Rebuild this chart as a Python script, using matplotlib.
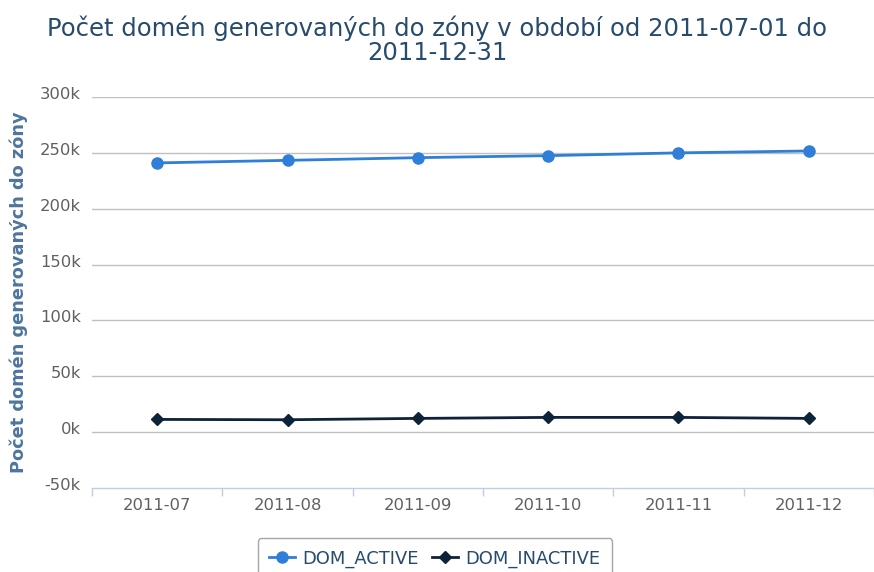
import matplotlib
matplotlib.use("Agg")
import matplotlib.pyplot as plt
import matplotlib.transforms as mtrans
from matplotlib.ticker import FuncFormatter, FixedLocator

months = ["2011-07", "2011-08", "2011-09", "2011-10", "2011-11", "2011-12"]
dom_active = [241000, 243300, 245700, 247500, 250000, 251700]
dom_inactive = [11400, 11100, 12300, 13200, 13200, 12300]
y_ticks = [-50000, 0, 50000, 100000, 150000, 200000, 250000, 300000]

title = "Počet domén generovaných do zóny v období od 2011-07-01 do\n2011-12-31"
ylabel = "Počet domén generovaných do zóny"

plt.rcParams['font.family'] = ['DejaVu Sans']

fig = plt.figure(figsize=(8.74, 5.72), dpi=100)
ax = fig.add_axes([92/874, (572-488)/572, 1 - 92/874, (488-97)/572])

x = list(range(len(months)))
ax.plot(x, dom_active, color="#2f7ed8", lw=2.0, marker="o", markersize=8,
        label="DOM_ACTIVE", zorder=3, clip_on=False)
ax.plot(x, dom_inactive, color="#0d233a", lw=2.0, marker="D", markersize=6,
        label="DOM_INACTIVE", zorder=3, clip_on=False)

ax.set_xlim(-0.5, len(months) - 0.5)
ax.set_ylim(-50000, 300000)

ax.yaxis.set_major_locator(FixedLocator(y_ticks))
ax.yaxis.set_major_formatter(FuncFormatter(lambda v, p: f"{int(v/1000)}k"))
for yt in y_ticks:
    if yt > y_ticks[0]:
        ax.axhline(yt, color="#c0c0c0", lw=1, zorder=1)

ax.set_xticks(x)
ax.set_xticklabels(months)
ax.set_xticks([i - 0.5 for i in range(len(months) + 1)], minor=True)
ax.tick_params(axis="x", which="major", length=0, pad=7, labelsize=11.8, labelcolor="#606060")
ax.tick_params(axis="x", which="minor", length=6, color="#c0d0e0", width=1)
ax.tick_params(axis="y", length=0, pad=8, labelsize=11.8, labelcolor="#606060")
offset = mtrans.ScaledTranslation(0, 4/100, fig.dpi_scale_trans)
for lab in ax.get_yticklabels():
    lab.set_horizontalalignment("right")
    lab.set_transform(lab.get_transform() + offset)

for s in ["top", "right", "left"]:
    ax.spines[s].set_visible(False)
ax.spines["bottom"].set_color("#c0d0e0")
ax.spines["bottom"].set_linewidth(1)

ax.set_ylabel(ylabel, fontsize=12.8, fontweight="bold", color="#4d759e")
ax.yaxis.set_label_coords(28/874, 0.5, transform=fig.transFigure)
ax.yaxis.label.set_y(1 - 292/572)

fig.text(0.5, 1 - 40/572, title, ha="center", va="center", fontsize=17.5,
         color="#274b6d", linespacing=1.0)

leg = ax.legend(loc="upper center", bbox_to_anchor=(435/874, 1 - 538/572),
                bbox_transform=fig.transFigure, ncol=2, frameon=True,
                fontsize=12.9, handlelength=1.45, handletextpad=0.4,
                columnspacing=0.75, borderpad=0.65, borderaxespad=0,
                fancybox=True)
leg.get_frame().set_edgecolor("#909090")
leg.get_frame().set_linewidth(1)
for t in leg.get_texts():
    t.set_color("#274b6d")

fig.savefig("out.png", dpi=100)
